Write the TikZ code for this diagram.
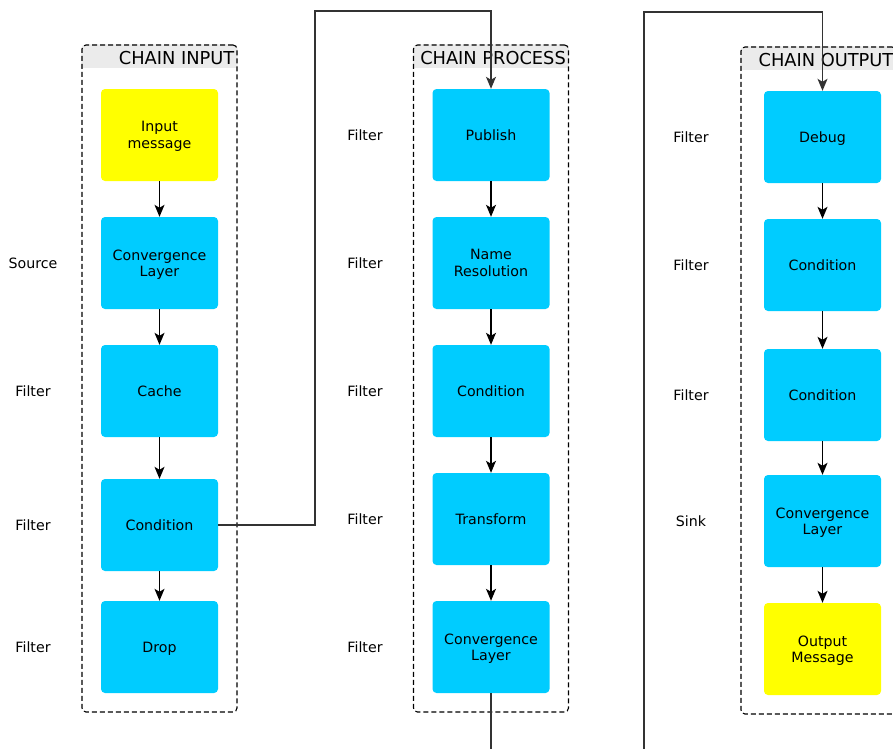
\documentclass[tikz,border=0pt]{standalone}
\usepackage{fontspec}
\setmainfont{DejaVu Sans}
\usetikzlibrary{arrows.meta}

\definecolor{boxcyan}{HTML}{00CCFF}
\definecolor{boxyellow}{HTML}{FFFF00}
\definecolor{headgray}{HTML}{EBEBEB}
\definecolor{wire}{HTML}{333333}

\tikzset{
  stage/.style={rectangle, rounded corners=4pt, fill=boxcyan, draw=none,
    minimum width=117pt, minimum height=92pt, align=center, inner sep=2pt,
    text depth=0pt, font=\fontsize{14.2}{16.5}\selectfont},
  endpoint/.style={stage, fill=boxyellow},
  role/.style={font=\fontsize{14.2}{16}\selectfont},
  chainbox/.style={rectangle, rounded corners=4pt, draw=black, dashed,
    dash pattern=on 5pt off 3pt, line width=1.1pt,
    minimum width=155pt, minimum height=667pt, inner sep=0pt},
  chaintitle/.style={anchor=east, inner sep=0pt, font=\fontsize{17.8}{20}\selectfont},
  flow/.style={line width=1.2pt, -{Stealth[length=12pt,width=10pt,inset=3pt]}},
  link/.style={draw=wire, line width=1.2pt},
}

\begin{document}
\begin{tikzpicture}[x=1pt, y=-1pt]
\useasboundingbox (0,0) rectangle (893,748);
\clip (0,0) rectangle (893,748);

% ---------- chain containers with grey title bands ----------
\foreach \name/\cx/\cy/\title in {cin/159.5/378.5/CHAIN INPUT,
                                   cpr/491/378.5/CHAIN PROCESS,
                                   cout/818.5/380.5/CHAIN OUTPUT}{
  \node[chainbox, draw=none] (\name) at (\cx,\cy) {};
  \begin{scope}
    \clip[rounded corners=4pt] (\name.north west) rectangle (\name.south east);
    \fill[headgray] (\name.north west) rectangle ([yshift=-24pt]\name.north east);
  \end{scope}
  \node[chainbox] at (\cx,\cy) {};
  \node[chaintitle] at ([xshift=-3pt,yshift=-13.5pt]\name.north east) {\title};
}

% ---------- CHAIN INPUT ----------
\node[endpoint] (inmsg)  at (159.5,135) {Input\\message};
\node[stage]    (inconv) at (159.5,263) {Convergence\\Layer};
\node[stage]    (incache) at (159.5,391) {Cache};
\node[stage]    (incond) at (159.5,525) {Condition};
\node[stage]    (indrop) at (159.5,647) {Drop};

\node[role] at (33,263) {Source};
\node[role] at (33,391) {Filter};
\node[role] at (33,525) {Filter};
\node[role] at (33,647) {Filter};

\draw[flow] (inmsg.south) -- (inconv.north);
\draw[flow] (inconv.south) -- (incache.north);
\draw[flow] (incache.south) -- (incond.north);
\draw[flow] (incond.south) -- (indrop.north);

% ---------- CHAIN PROCESS ----------
\node[stage] (ppub)   at (491,135) {Publish};
\node[stage] (pname)  at (491,263) {Name\\Resolution};
\node[stage] (pcond)  at (491,391) {Condition};
\node[stage] (ptrans) at (491,519) {Transform};
\node[stage] (pconv)  at (491,647) {Convergence\\Layer};

\node[role] at (365,135) {Filter};
\node[role] at (365,263) {Filter};
\node[role] at (365,391) {Filter};
\node[role] at (365,519) {Filter};
\node[role] at (365,647) {Filter};

\draw[flow] (ppub.south) -- (pname.north);
\draw[flow] (pname.south) -- (pcond.north);
\draw[flow] (pcond.south) -- (ptrans.north);
\draw[flow] (ptrans.south) -- (pconv.north);

% ---------- CHAIN OUTPUT ----------
\node[stage]    (odebug) at (822.5,137) {Debug};
\node[stage]    (ocond1) at (822.5,265) {Condition};
\node[stage]    (ocond2) at (822.5,395) {Condition};
\node[stage]    (oconv)  at (822.5,521) {Convergence\\Layer};
\node[endpoint] (omsg)   at (822.5,649) {Output\\Message};

\node[role] at (691,137) {Filter};
\node[role] at (691,265) {Filter};
\node[role] at (691,395) {Filter};
\node[role] at (691,521) {Sink};

\draw[flow] (odebug.south) -- (ocond1.north);
\draw[flow] (ocond1.south) -- (ocond2.north);
\draw[flow] (ocond2.south) -- (oconv.north);
\draw[flow] (oconv.south) -- (omsg.north);

% ---------- links between chains ----------
\coordinate (hopA)  at (315,11);
\coordinate (exitB) at (491,760);
\coordinate (backB) at (644,760);
\coordinate (hopB)  at (644,12);

\draw[link, flow, draw=wire] (incond.east) -| (hopA) -| (ppub.north);
\draw[link] (pconv.south) -- (exitB);
\draw[link, flow, draw=wire] (backB) -- (hopB) -| (odebug.north);
\end{tikzpicture}
\end{document}
